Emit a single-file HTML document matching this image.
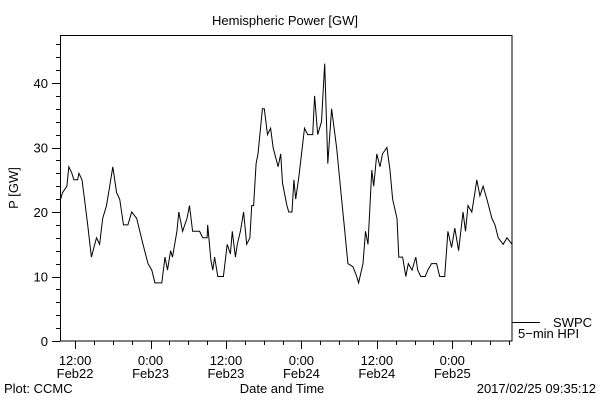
<!DOCTYPE html>
<html><head><meta charset="utf-8"><style>
html,body{margin:0;padding:0;background:#fff;}
svg text{font-family:"Liberation Sans",sans-serif;font-size:13px;fill:#000;}
</style></head><body>
<svg id="chart" width="600" height="400" xmlns="http://www.w3.org/2000/svg">
<rect x="0" y="0" width="600" height="400" fill="#fff"/>
<text x="285" y="25" text-anchor="middle">Hemispheric Power [GW]</text>
<rect x="60.5" y="35.5" width="451.5" height="305.5" fill="none" stroke="#000" stroke-width="1"/>
<g id="yaxis"></g>
<g id="xaxis"></g>
<text transform="translate(18,188) rotate(-90)" text-anchor="middle">P [GW]</text>
<text x="282" y="393" text-anchor="middle">Date and Time</text>
<text x="4" y="393">Plot: CCMC</text>
<text x="596" y="393" text-anchor="end">2017/02/25 09:35:12</text>
<g>
<line x1="512" y1="322.5" x2="540" y2="322.5" stroke="#000"/>
<text x="553" y="327">SWPC</text>
<text x="518" y="338">5−min HPI</text>
</g>
<path id="series" fill="none" stroke="#000" stroke-width="1"/>
</svg>
<script>
// hours since Feb22 00:00 UT
const times=[9.7,10.0,10.7,11.0,11.5,11.8,12.4,12.6,13.1,13.5,14.0,14.6,15.4,15.9,16.4,17.0,17.5,18.0,18.6,19.1,19.7,20.4,21.0,21.8,22.3,22.8,23.6,24.2,24.7,25.8,26.3,26.7,27.2,27.5,28.2,28.5,29.1,29.8,30.2,30.7,31.8,32.3,33.0,33.1,33.6,33.9,34.2,34.7,35.6,35.9,36.2,36.7,37.0,37.5,37.8,38.3,38.8,39.3,39.8,40.1,40.4,40.8,41.1,41.8,42.1,42.6,43.1,43.5,44.3,44.7,45.0,45.7,46.0,46.5,46.8,47.1,47.6,48.5,49.0,49.8,50.1,50.6,51.2,51.7,52.2,52.8,53.6,54.4,54.9,55.4,56.2,56.8,57.1,57.8,58.2,58.6,59.2,59.5,60.0,60.5,60.9,61.6,62.1,62.5,63.2,63.5,64.1,64.6,65.0,65.6,66.2,66.5,67.0,67.7,68.1,68.7,69.5,70.0,70.8,71.3,71.9,72.4,73.0,73.7,74.1,74.5,75.1,75.6,75.9,76.4,76.9,77.5,78.3,78.8,79.3,80.1,80.7,81.5];
const power=[22,23,24,27,26,25,25,26,25,22,18,13,16,15,19,21,24,27,23,22,18,18,20,19,17,15,12,11,9,9,13,11,14,13,17,20,17,19,21,17,17,16,16,18,12.5,11,13,10,10,12.5,15,13.5,17,13,15,17,20,15,16,21,21,27.5,29,36,36,32,33,30,27,29,24.5,21,20,20,25,22,25.5,33,32,32,38,32,34,43,27.5,36,30,22,17,12,11.5,10,9,12,17,15,26.5,24,29,27,29,30,26.5,22,19,13,13,10,12,11,13,11,10,10,11,12,12,10,10,17,14.5,17.5,14,20,17,21,20,23,25,22.5,24,22,19,18,16,15,16,15];
const yTicks=[0,10,20,30,40];
const xTickHours=[12,24,36,48,60,72];
const xTickTime=["12:00","0:00","12:00","0:00","12:00","0:00"];
const xTickDate=["Feb22","Feb23","Feb23","Feb24","Feb24","Feb25"];
const X0=60,X1=512,Y0=341,Y1=35;
const tMin=9.6,tMax=81.5,vMin=0,vMax=(341-35)/6.45;
const xs=t=>X0+(t-tMin)/(tMax-tMin)*(X1-X0);
const ys=v=>Y0-(v-vMin)/(vMax-vMin)*(Y0-Y1);
const NS="http://www.w3.org/2000/svg";
const ya=document.getElementById('yaxis'),xa=document.getElementById('xaxis');
function ln(g,x1,y1,x2,y2){const l=document.createElementNS(NS,'line');
l.setAttribute('x1',x1);l.setAttribute('y1',y1);l.setAttribute('x2',x2);l.setAttribute('y2',y2);l.setAttribute('stroke','#000');


g.appendChild(l);}
for(let v=0;v<=46;v+=2){const y=Math.round(ys(v))+0.5;ln(ya,v%10===0?52:56,y,60,y);}
yTicks.forEach(v=>{const t=document.createElementNS(NS,'text');
t.setAttribute('x',48);t.setAttribute('y',ys(v)+5);t.setAttribute('text-anchor','end');t.textContent=v;


ya.appendChild(t);});
for(let h=12;h<=81;h+=3){const x=Math.round(xs(h))+0.5;ln(xa,x,341,x,h%12===0?349:345);}
xTickHours.forEach((h,i)=>{const x=xs(h);
const a=document.createElementNS(NS,'text');a.setAttribute('x',x);a.setAttribute('y',365);a.setAttribute('text-anchor','middle');a.textContent=xTickTime[i];


xa.appendChild(a);
const b=document.createElementNS(NS,'text');b.setAttribute('x',x);b.setAttribute('y',378);b.setAttribute('text-anchor','middle');b.textContent=xTickDate[i];


xa.appendChild(b);});
document.getElementById('series').setAttribute('d',times.map((t,i)=>(i?'L':'M')+xs(t).toFixed(1)+' '+ys(power[i]).toFixed(1)).join(' '));
</script>
</body></html>
